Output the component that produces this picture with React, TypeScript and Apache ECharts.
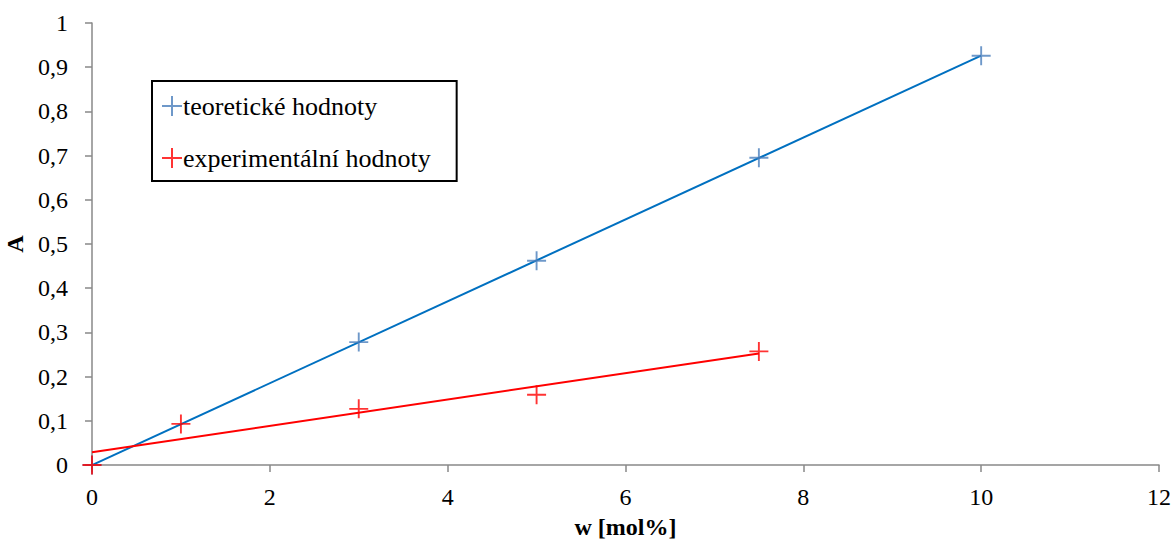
import React, { useEffect, useRef } from "react";
import * as echarts from "echarts";

const theoryX = [0, 3, 5, 7.5, 10];
const theoryY = [0, 0.278, 0.462, 0.695, 0.926];
const expX = [0, 1, 3, 5, 7.5];
const expY = [0, 0.093, 0.127, 0.159, 0.257];
const seriesNames = ["teoretické hodnoty", "experimentální hodnoty"];
const xAxisName = "w [mol%]";
const yAxisName = "A";

const PLUS = "path://M4.5,0 H5.5 V4.5 H10 V5.5 H5.5 V10 H4.5 V5.5 H0 V4.5 H4.5 Z";

function fitLine(xs: number[], ys: number[]) {
  const n = xs.length;
  const mx = xs.reduce((a, b) => a + b, 0) / n;
  const my = ys.reduce((a, b) => a + b, 0) / n;
  let sxy = 0, sxx = 0;
  for (let i = 0; i < n; i++) {
    sxy += (xs[i] - mx) * (ys[i] - my);
    sxx += (xs[i] - mx) ** 2;
  }
  const k = sxy / sxx;
  const q = my - k * mx;
  const x0 = Math.min(...xs), x1 = Math.max(...xs);
  return [[x0, q + k * x0], [x1, q + k * x1]];
}

export default function App() {
  const ref = useRef<HTMLDivElement>(null);
  useEffect(() => {
    if (!ref.current) return;
    const chart = echarts.init(ref.current, undefined, { renderer: "svg" });
    const font = "Liberation Serif";
    const blueLine = "#0070C0";
    const blueMark = "#4A7EBB";
    const red = "#FF0000";
    chart.setOption({
      animation: false,
      backgroundColor: "#fff",
      textStyle: { fontFamily: font },
      grid: {
        left: 92,
        right: 17,
        top: 23,
        bottom: 78,
        containLabel: false,
        outerBoundsMode: "none",
      },
      legend: {
        data: seriesNames,
        orient: "vertical",
        left: 152,
        top: 81,
        padding: [12, 26, 10, 10],
        itemGap: 26,
        itemWidth: 20,
        itemHeight: 22,
        borderColor: "#000",
        borderWidth: 2,
        textStyle: { fontFamily: font, fontSize: 26, color: "#000", padding: [0, 0, 0, -4] },
      },
      xAxis: {
        type: "value",
        min: 0,
        max: 12,
        interval: 2,
        name: xAxisName,
        nameLocation: "middle",
        nameGap: 50,
        nameTextStyle: { fontFamily: font, fontSize: 24, fontWeight: "bold", color: "#000" },
        axisLine: { show: true, lineStyle: { color: "#888", width: 1.5 } },
        axisTick: { show: true, length: 7, lineStyle: { color: "#888", width: 1.5 } },
        axisLabel: { fontFamily: font, fontSize: 24, color: "#000", margin: 20 },
        splitLine: { show: false },
      },
      yAxis: {
        type: "value",
        min: 0,
        max: 1,
        interval: 0.1,
        name: yAxisName,
        nameLocation: "middle",
        nameGap: 62,
        nameRotate: 90,
        nameTextStyle: { fontFamily: font, fontSize: 24, fontWeight: "bold", color: "#000" },
        axisLine: { show: true, lineStyle: { color: "#888", width: 1.5 } },
        axisTick: { show: true, length: 7, lineStyle: { color: "#888", width: 1.5 } },
        axisLabel: {
          fontFamily: font,
          fontSize: 24,
          color: "#000",
          margin: 24,
          formatter: (v: number) => {
            const r = Math.round(v * 10) / 10;
            return r === 0 || r === 1 ? String(r) : r.toFixed(1).replace(".", ",");
          },
        },
        splitLine: { show: false },
      },
      series: [
        {
          type: "line",
          data: fitLine(theoryX, theoryY),
          symbol: "none",
          lineStyle: { color: blueLine, width: 2 },
          clip: false,
          z: 2,
        },
        {
          type: "line",
          data: fitLine(expX, expY),
          symbol: "none",
          lineStyle: { color: red, width: 2 },
          clip: false,
          z: 2,
        },
        {
          name: seriesNames[0],
          type: "scatter",
          data: theoryX.map((x, i) => [x, theoryY[i]]),
          symbol: PLUS,
          symbolSize: 19,
          itemStyle: { color: blueMark },
          clip: false,
          z: 3,
        },
        {
          name: seriesNames[1],
          type: "scatter",
          data: expX.map((x, i) => [x, expY[i]]),
          symbol: PLUS,
          symbolSize: 19,
          itemStyle: { color: red },
          clip: false,
          z: 4,
        },
      ],
    });
    return () => chart.dispose();
  }, []);
  return (
    <div
      ref={ref}
      style={{ position: "absolute", left: 0, top: 0, width: 1176, height: 543 }}
    />
  );
}
